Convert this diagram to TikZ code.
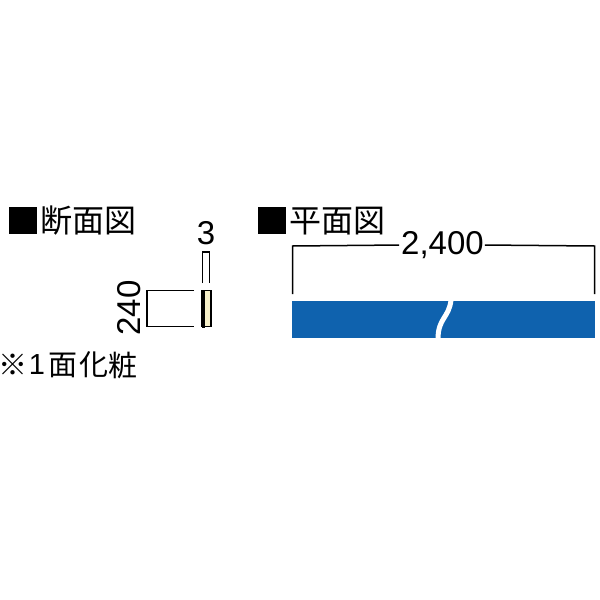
\documentclass[tikz,border=0pt]{standalone}
\usepackage{fontspec}
\setmainfont{Liberation Sans}
\newfontfamily\cjk{Noto Sans CJK JP}[Scale=1]
\definecolor{planblue}{HTML}{0F62AE}
\definecolor{cream}{HTML}{F5EFC8}
\tikzset{
  head/.style={inner sep=0pt,anchor=west,font=\cjk\fontsize{32}{32}\selectfont},
  note/.style={inner sep=0pt,anchor=center,font=\cjk\fontsize{29}{29}\selectfont},
  dimtext/.style={inner sep=0pt,anchor=center,font=\fontsize{33}{33}\selectfont},
  dimline/.style={draw=black,line width=1.5pt},
  bullet/.style={fill=black,draw=none,inner sep=0pt,minimum width=28pt,minimum height=27pt},
}
\begin{document}
\begin{tikzpicture}[x=1pt,y=-1pt]
\useasboundingbox (0,0) rectangle (600,600);
% section heading
\node[bullet] (b1) at (23,220.5) {};
\node[head] (t1) at (40,221) {断面図};
% plan heading
\node[bullet] (b2) at (272,220.5) {};
\node[head] (t2) at (289,221) {平面図};
% dimensions
\node[dimtext] (d3) at (206,233.5) {3};
\node[dimtext,rotate=90] (d240) at (129.5,308) {240};
\node[dimtext] (d2400) at (442.5,245) {2,400};
% section
\node[draw=black,line width=1.6pt,fill=cream,minimum width=9pt,minimum height=36pt,inner sep=0pt] (sec) at (206.5,308.5) {};
\fill[black] (201.5,290) rectangle (205,327.5);
\coordinate (a1) at (202.5,283);
\coordinate (a2) at (202.5,252);
\coordinate (a3) at (209.7,252);
\coordinate (a4) at (209.7,283);
\draw[dimline] (a1) -- (a2) -- (a3) -- (a4);
\coordinate (c1) at (194,290.5);
\coordinate (c2) at (147,290.5);
\coordinate (c3) at (147,326.5);
\coordinate (c4) at (194,326.5);
\draw[dimline] (c1) -- (c2) -- (c3) -- (c4);
% plan
\coordinate (p1) at (292.5,294);
\coordinate (p2) at (292.5,246);
\coordinate (p3) at (594.5,246);
\coordinate (p4) at (594.5,294);
\draw[dimline,shorten >=2pt] (p1) -- (p2) -- (d2400.west);
\draw[dimline,shorten <=1pt] (d2400.east) -- (p3) -- (p4);
\node[fill=planblue,draw=none,inner sep=0pt,minimum width=303pt,minimum height=37pt] (plan) at (443.5,319.5) {};
\coordinate (w1) at (451,300);
\coordinate (w2) at (438,339);
\draw[white,line width=5pt] (w1) .. controls (449,318) and (438,318) .. (w2);
% note
\node[note] (n0) at (13,364.5) {※};
\node[dimtext,font=\fontsize{29}{29}\selectfont] (n1) at (37,365) {1};
\node[note] (n2) at (63,365) {面};
\node[note] (n3) at (94,365) {化};
\node[note] (n4) at (123,365) {粧};
\end{tikzpicture}
\end{document}
